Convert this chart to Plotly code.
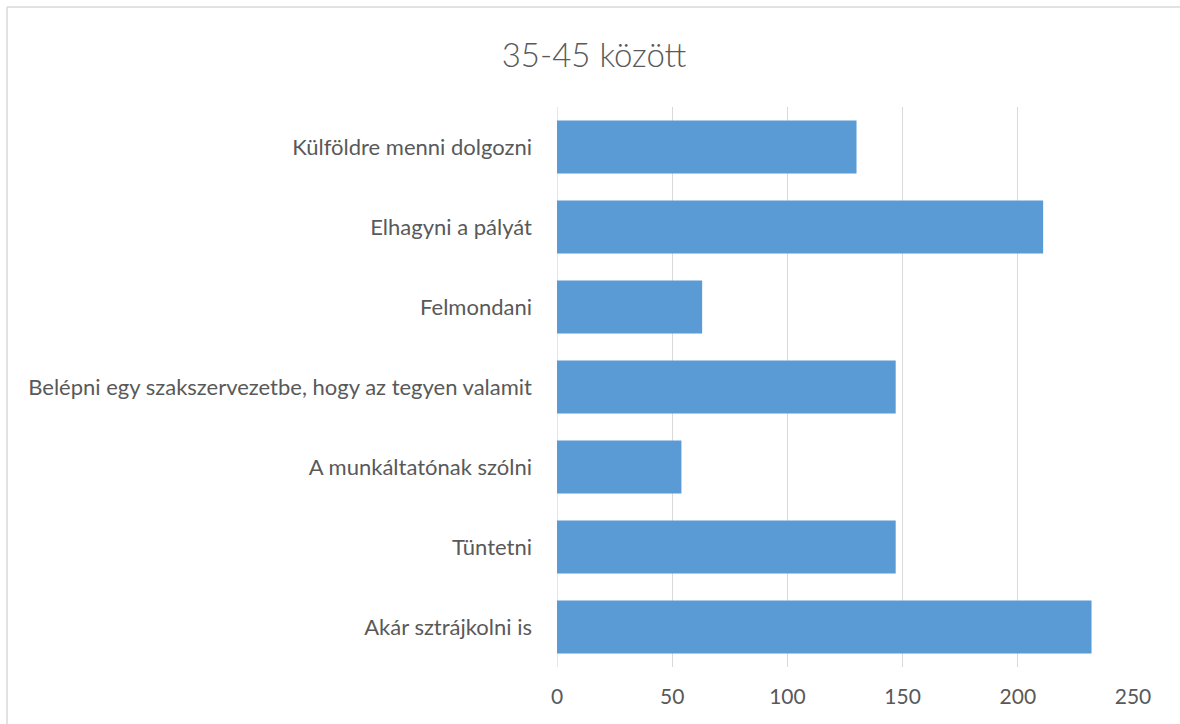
import plotly.graph_objects as go

categories = [
    "Akár sztrájkolni is",
    "Tüntetni",
    "A munkáltatónak szólni",
    "Belépni egy szakszervezetbe, hogy az tegyen valamit",
    "Felmondani",
    "Elhagyni a pályát",
    "Külföldre menni dolgozni",
]
values = [232, 147, 54, 147, 63, 211, 130]
x_ticks = [0, 50, 100, 150, 200, 250]
title_text = "35-45 között"

W, H = 1180, 724
L, R, T, B = 557, 47, 107, 57
pw, ph = W - L - R, H - T - B

fig = go.Figure(go.Bar(
    y=categories, x=values, orientation="h",
    marker=dict(color="#5B9BD5", line=dict(width=0)),
    hoverinfo="x+y",
))

font_fam = "Lato, Open Sans, sans-serif"
fig.update_layout(
    width=W, height=H,
    margin=dict(l=L, r=R, t=T, b=B, autoexpand=False),
    paper_bgcolor="white", plot_bgcolor="white",
    bargap=0.34,
    showlegend=False,
    title=dict(text=title_text, x=594 / W, xanchor="center", y=1 - 55 / H, yanchor="middle",
               font=dict(family=font_fam, size=33, color="#595959", weight=300)),
    font=dict(family=font_fam, color="#595959", size=22),
)
fig.update_xaxes(
    range=[0, 250], tickvals=x_ticks, showgrid=True, gridcolor="#D9D9D9", gridwidth=1.3,
    zeroline=False, showline=False, ticks="", ticklabelstandoff=15,
    tickfont=dict(size=21, color="#595959"), fixedrange=True,
)
fig.update_yaxes(
    showgrid=False, zeroline=False, showline=False, ticks="", ticklabelstandoff=24,
    tickfont=dict(size=22, color="#595959"), fixedrange=True,
)
# zero gridline
fig.add_shape(type="line", xref="x", yref="paper", x0=0, x1=0, y0=0, y1=1,
              line=dict(color="#D9D9D9", width=1.3), layer="below")
# outer chart border (top and left edges visible)
top_y = (H - B - 7) / ph
left_x = (7 - L) / pw
fig.add_shape(type="line", xref="paper", yref="paper",
              x0=left_x, x1=(1185 - L) / pw, y0=top_y, y1=top_y,
              line=dict(color="#D9D9D9", width=1.5))
fig.add_shape(type="line", xref="paper", yref="paper",
              x0=left_x, x1=left_x, y0=top_y, y1=(H - B - 730) / ph,
              line=dict(color="#D9D9D9", width=1.5))
fig.write_html("out.html", post_script="document.body.style.margin='0px';",
               config={"displayModeBar": False})
